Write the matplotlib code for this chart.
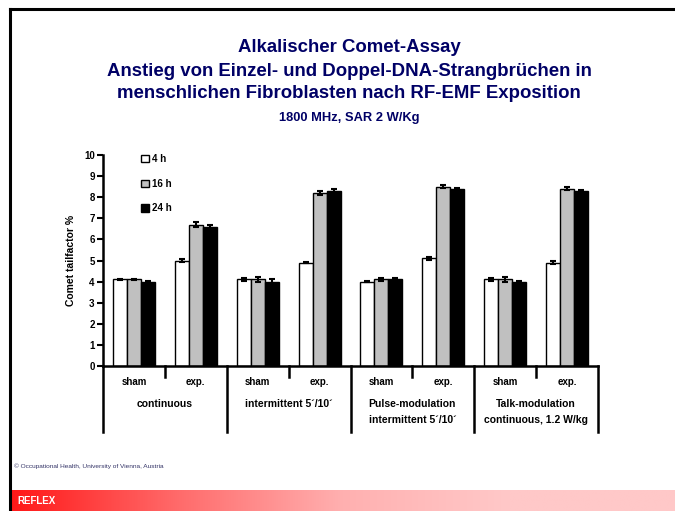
import numpy as np
import matplotlib
matplotlib.use("Agg")
import matplotlib.pyplot as plt
from matplotlib.colors import LinearSegmentedColormap

plt.rcParams['font.family'] = ['Liberation Sans', 'DejaVu Sans']
plt.rcParams['font.weight'] = 'bold'

# Data
sub_labels = ["sham", "exp."] * 4
group_labels = ["continuous", "intermittent 5\u00b4/10\u00b4",
                "Pulse-modulation\nintermittent 5\u00b4/10\u00b4",
                "Talk-modulation\ncontinuous, 1.2 W/kg"]
series = ["4 h", "16 h", "24 h"]
vals_4h = [4.1, 5.0, 4.1, 4.9, 4.0, 5.1, 4.1, 4.9]
vals_16h = [4.1, 6.7, 4.1, 8.2, 4.1, 8.5, 4.1, 8.4]
vals_24h = [4.0, 6.6, 4.0, 8.3, 4.1, 8.4, 4.0, 8.3]
err_4h = [0.02, 0.08, 0.08, 0.04, 0.02, 0.08, 0.05, 0.06]
err_16h = [0.02, 0.12, 0.1, 0.08, 0.05, 0.08, 0.1, 0.08]
err_24h = [0.02, 0.08, 0.1, 0.08, 0.08, 0.03, 0.02, 0.05]
colors = ["white", "#c0c0c0", "black"]

navy = "#000066"
fig = plt.figure(figsize=(6.75, 5.11), dpi=100)

# slide frame
fig.add_artist(plt.Line2D([9.5/675, 9.5/675], [0, 1 - 9/511], color="black", lw=2.2))
fig.add_artist(plt.Line2D([9.5/675, 1], [1 - 9/511, 1 - 9/511], color="black", lw=2.2))

# red gradient bar at the bottom
bar_ax = fig.add_axes([10/675, 0, 1 - 10/675, 21/511])
cmap = LinearSegmentedColormap.from_list("reflex", ["#ff1818", "#ff6a6a", "#ffb0b0", "#ffc8c8", "#ffc8c8"])
bar_ax.imshow(np.linspace(0, 1, 256).reshape(1, -1), aspect="auto", cmap=cmap, extent=[0, 1, 0, 1])
bar_ax.axis("off")
fig.text(17/675, 1 - 501/511, "REFLEX", color="white", fontsize=7, fontweight="bold", va="center")
fig.text(14/675, 1 - 466/511, "\u00a9 Occupational Health, University of Vienna, Austria",
         color="#333366", fontsize=4.65, fontweight="normal", va="center")

# titles
tx = 0.517
fig.text(tx, 1 - 47/511, "Alkalischer Comet-Assay", color=navy, fontsize=13.4, ha="center", va="center")
fig.text(tx, 1 - 71/511, "Anstieg von Einzel- und Doppel-DNA-Strangbr\u00fcchen in",
         color=navy, fontsize=13.4, ha="center", va="center")
fig.text(tx, 1 - 93/511, "menschlichen Fibroblasten nach RF-EMF Exposition",
         color=navy, fontsize=13.4, ha="center", va="center")
fig.text(tx, 1 - 118/511, "1800 MHz, SAR 2 W/Kg", color=navy, fontsize=9.3, ha="center", va="center")

ax = fig.add_axes([103/675, 1 - 366/511, 495/675, 211/511])
x = np.arange(len(sub_labels)) + 0.5
w = 0.226
for k, (vals, errs) in enumerate([(vals_4h, err_4h), (vals_16h, err_16h), (vals_24h, err_24h)]):
    ax.bar(x + (k - 1) * w, vals, w, color=colors[k], edgecolor="black", linewidth=1.0,
           yerr=errs, capsize=2.5, error_kw=dict(elinewidth=1.5, capthick=1.5, ecolor="black"),
           label=series[k], zorder=2)

ax.set_xlim(0, 8)
ax.set_ylim(0, 10)
ax.set_yticks(range(0, 11))
ax.tick_params(axis="y", direction="out", length=4, width=1.5, labelsize=7, pad=2)
ax.set_xticks([])
for s in ["top", "right"]:
    ax.spines[s].set_visible(False)
ax.spines["left"].set_linewidth(1.8)
ax.spines["bottom"].set_linewidth(1.8)
ax.set_ylabel("Comet tailfactor %", fontsize=7.5, fontweight="bold", labelpad=6)

# category box lines below the axis
tr = ax.get_xaxis_transform()
for b in range(0, 9):
    depth = -0.313 if b % 2 == 0 else -0.052
    ax.plot([b, b], [0, depth], transform=tr, color="black", lw=1.8, clip_on=False)
for i, lab in enumerate(sub_labels):
    ax.text(x[i], -0.075, lab, transform=tr, ha="center", va="center", fontsize=7)
for g, lab in enumerate(group_labels):
    ax.text(2 * g + 1, -0.158, lab, transform=tr, ha="center", va="top", fontsize=7.5, linespacing=1.75)

ax.legend(loc="upper left", bbox_to_anchor=(0.06, 1.045), frameon=False, fontsize=7,
          handlelength=0.75, handleheight=0.75, handletextpad=0.3, labelspacing=1.5)

fig.savefig("out.png", dpi=100)
